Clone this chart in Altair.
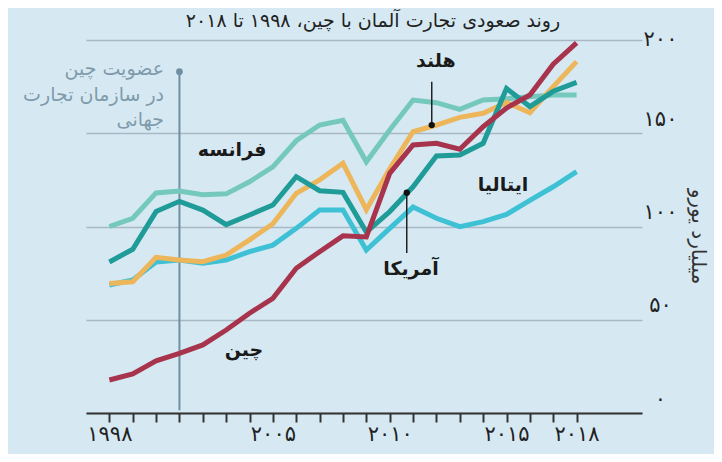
import altair as alt
import pandas as pd

years = list(range(1998, 2019))
china = [17.7, 20.9, 28.0, 32.0, 36.5, 44.5, 53.5, 61.5, 77.6, 86.5, 95.0,
         94.4, 128.5, 143.7, 144.6, 141.4, 153.5, 163.5, 170.5, 187.0, 198.5]
france = [100.0, 104.4, 118.0, 119.0, 117.0, 117.5, 124.0, 132.0, 146.0, 154.4, 157.0,
          134.7, 151.7, 167.8, 166.4, 162.8, 167.8, 168.5, 169.6, 170.5, 170.5]
netherlands = [69.5, 70.4, 83.5, 82.0, 81.1, 84.7, 92.8, 101.5, 117.8, 125.0, 133.9,
               109.0, 131.0, 150.8, 154.4, 158.5, 160.7, 166.5, 161.0, 175.0, 188.4]
usa = [81.0, 87.8, 108.0, 113.5, 108.8, 101.0, 106.2, 111.5, 126.7, 119.2, 118.3,
       97.0, 108.0, 121.3, 137.8, 138.3, 144.6, 174.0, 164.3, 172.5, 177.3]
italy = [68.6, 71.3, 81.0, 82.0, 80.3, 82.0, 86.5, 90.0, 99.0, 108.8, 108.8,
         87.4, 99.0, 110.4, 104.4, 99.9, 102.6, 106.5, 114.0, 121.3, 129.4]

series_names = ["فرانسه", "ایتالیا", "هلند", "آمریکا", "چین"]
series_values = [france, italy, netherlands, usa, china]
series_colors = ["#74c8bc", "#3ec1d4", "#edb65b", "#1f9b98", "#a7344c"]

# direct labels (name, year, value)
label_names = ["فرانسه", "هلند", "ایتالیا", "آمریکا", "چین"]
label_years = [2003.25, 2011.98, 2014.85, 2010.91, 2003.76]
label_values = [141.0, 188.7, 122.3, 77.0, 33.8]

# pointer lines (year, top value, bottom value, dot value)
pointer_years = [2011.8, 2010.73]
pointer_top = [177.6, 118.1]
pointer_bottom = [154.4, 85.8]
pointer_dot = [154.4, 118.1]

wto_year = 2001
wto_top = 183.0
wto_bottom = 1.5
wto_lines = ["عضویت چین", "در سازمان تجارت", "جهانی"]
wto_text_year = 2000.34
wto_text_values = [184.5, 170.5, 157.0]

title_text = "روند صعودی تجارت آلمان با چین، ۱۹۹۸ تا ۲۰۱۸"
y_title = "میلیارد یورو"
x_label_years = [1998, 2005, 2010, 2015, 2018]
y_ticks = [0, 50, 100, 150, 200]

FA = "۰۱۲۳۴۵۶۷۸۹"


def fa(n):
    return "".join(FA[int(c)] for c in str(n))


x_expr = " : ".join(f"datum.value == {y} ? '{fa(y)}'" for y in x_label_years) + " : ''"
y_expr = " : ".join(f"datum.value == {v} ? '{fa(v)}'" for v in y_ticks) + " : ''"

FONT = "DejaVu Sans"

xscale = alt.Scale(domain=[1997, 2020.8], nice=False, zero=False)
yscale = alt.Scale(domain=[0, 200], nice=False)

xaxis = alt.Axis(values=years, labelExpr=x_expr, title=None, grid=False,
                 domainColor="#333333", domainWidth=2, tickColor="#333333",
                 tickWidth=2, tickSize=9, labelFont=FONT, labelFontSize=21,
                 labelColor="#222222", labelPadding=1, labelFlush=False,
                 labelOverlap=False)
yaxis = alt.Axis(orient="right", values=y_ticks, labelExpr=y_expr, title=y_title,
                 grid=True, gridColor="#a9b8c3", gridWidth=1.5, domain=False,
                 ticks=False, tickSize=0, labelAlign="center", labelPadding=18,
                 labelOffset={"condition": {"test": "datum.value == 200", "value": -1},
                              "value": -14},
                 labelFont=FONT, labelFontSize=21, labelColor="#222222",
                 titleFont=FONT, titleFontSize=20, titleFontWeight="normal",
                 titleColor="#333333", titlePadding=11, titleY=196)

X = alt.X("year:Q", scale=xscale, axis=xaxis)
Y = alt.Y("value:Q", scale=yscale, axis=yaxis)

layers = []

# WTO line and text
wto_df = pd.DataFrame({"year": [wto_year], "value": [wto_bottom], "value2": [wto_top]})
layers.append(alt.Chart(wto_df).mark_rule(color="#6e8fa1", strokeWidth=2).encode(
    x=X, y=Y, y2="value2:Q"))
wto_dot = pd.DataFrame({"year": [wto_year], "value": [wto_top]})
layers.append(alt.Chart(wto_dot).mark_circle(color="#6e8fa1", opacity=1, size=45).encode(x=X, y=Y))
wto_text_df = pd.DataFrame({"year": [wto_text_year] * 3, "value": wto_text_values, "t": wto_lines})
layers.append(alt.Chart(wto_text_df).mark_text(font=FONT, fontSize=19, color="#7f9bab",
                                                align="right", baseline="middle").encode(
    x=X, y=Y, text="t:N"))

for name, vals, col in zip(series_names, series_values, series_colors):
    df = pd.DataFrame({"year": years, "value": vals})
    layers.append(alt.Chart(df).mark_line(color=col, strokeWidth=5).encode(x=X, y=Y))

ptr_df = pd.DataFrame({"year": pointer_years, "value": pointer_bottom, "value2": pointer_top})
layers.append(alt.Chart(ptr_df).mark_rule(color="#222222", strokeWidth=1.5).encode(
    x=X, y=Y, y2="value2:Q"))
dot_df = pd.DataFrame({"year": pointer_years, "value": pointer_dot})
layers.append(alt.Chart(dot_df).mark_circle(color="#111111", opacity=1, size=40).encode(x=X, y=Y))

lab_df = pd.DataFrame({"year": label_years, "value": label_values, "t": label_names})
layers.append(alt.Chart(lab_df).mark_text(font=FONT, fontSize=19, fontWeight="bold",
                                          color="#1a1a1a", align="center",
                                          baseline="middle").encode(x=X, y=Y, text="t:N"))

chart = alt.layer(*layers).properties(
    width=556, height=373,
    title=alt.TitleParams(text=title_text, font=FONT, fontSize=19, fontWeight="normal",
                          color="#222222", anchor="middle", frame="group", offset=10,
                          dx=9, dy=13),
    background="#d6e9f3",
    padding={"left": 78, "top": 32, "right": 72, "bottom": 41},
    autosize=alt.AutoSizeParams(type="none"),
).configure_view(strokeWidth=0)

chart.save("out.html", embed_options={"renderer": "svg", "actions": False})
